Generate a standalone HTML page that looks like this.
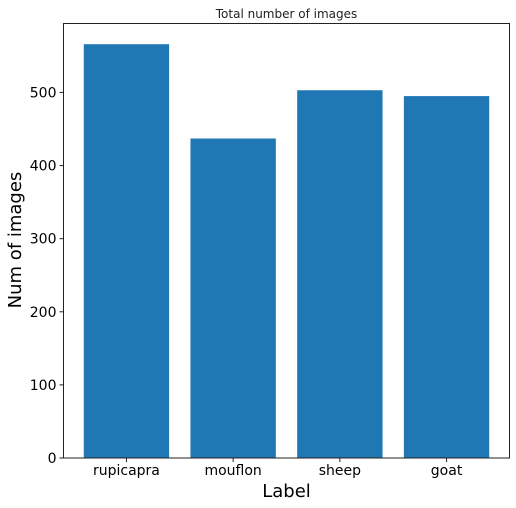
<!DOCTYPE html>
<html><head><meta charset="utf-8"><style>body{margin:0;background:#fff}svg{display:block;font-family:"DejaVu Sans","Liberation Sans",sans-serif}</style></head>
<body>
<svg id="chart" width="516" height="508" xmlns="http://www.w3.org/2000/svg">
<rect width="516" height="508" fill="#fff"/>
<text x="286.5" y="18" font-size="12" text-anchor="middle" fill="#222">Total number of images</text>
<g id="bars"></g><g id="yticks"></g><g id="xticks"></g>
<rect x="63.5" y="23.5" width="446" height="434.5" fill="none" stroke="#222" stroke-width="1"/>
<text x="286.5" y="497" font-size="18" text-anchor="middle" fill="#000">Label</text>
<text transform="translate(21,240) rotate(-90)" font-size="18" text-anchor="middle" fill="#000">Num of images</text>
</svg>
<script>
const categories = ["rupicapra","mouflon","sheep","goat"];
const counts = [566, 437, 503, 495];
const yTicks = [0,100,200,300,400,500];
const L=63.5,R=509.5,T=23.5,B=458;
const ymax=Math.max(...counts)*1.05;
const xmin=-0.59,xmax=categories.length-1+0.59;
const xs=v=>L+(v-xmin)/(xmax-xmin)*(R-L);
const ys=v=>B-v/ymax*(B-T);
const NS="http://www.w3.org/2000/svg";
const bw=(xs(0.8)-xs(0));
const bars=document.getElementById('bars'),yt=document.getElementById('yticks'),xt=document.getElementById('xticks');
categories.forEach((c,i)=>{
  const r=document.createElementNS(NS,'rect');
  
  
  r.setAttribute('x',xs(i)-bw/2);r.setAttribute('width',bw);
  r.setAttribute('y',ys(counts[i]));r.setAttribute('height',B-ys(counts[i]));
  r.setAttribute('fill','#1f77b4');bars.appendChild(r);
  const l=document.createElementNS(NS,'line');
  
  
  l.setAttribute('x1',xs(i));l.setAttribute('x2',xs(i));l.setAttribute('y1',B);l.setAttribute('y2',B+4);l.setAttribute('stroke','#222');xt.appendChild(l);
  const t=document.createElementNS(NS,'text');
  
  
  t.setAttribute('x',xs(i));t.setAttribute('y',B+17);t.setAttribute('font-size','14');t.setAttribute('text-anchor','middle');t.textContent=c;xt.appendChild(t);
});
yTicks.forEach(v=>{
  const l=document.createElementNS(NS,'line');
  
  
  l.setAttribute('x1',L-4);l.setAttribute('x2',L);l.setAttribute('y1',ys(v));l.setAttribute('y2',ys(v));l.setAttribute('stroke','#222');yt.appendChild(l);
  const t=document.createElementNS(NS,'text');
  
  
  t.setAttribute('x',L-7);t.setAttribute('y',ys(v)+5);t.setAttribute('font-size','14');t.setAttribute('text-anchor','end');t.textContent=v;yt.appendChild(t);
});
</script>
</body></html>
